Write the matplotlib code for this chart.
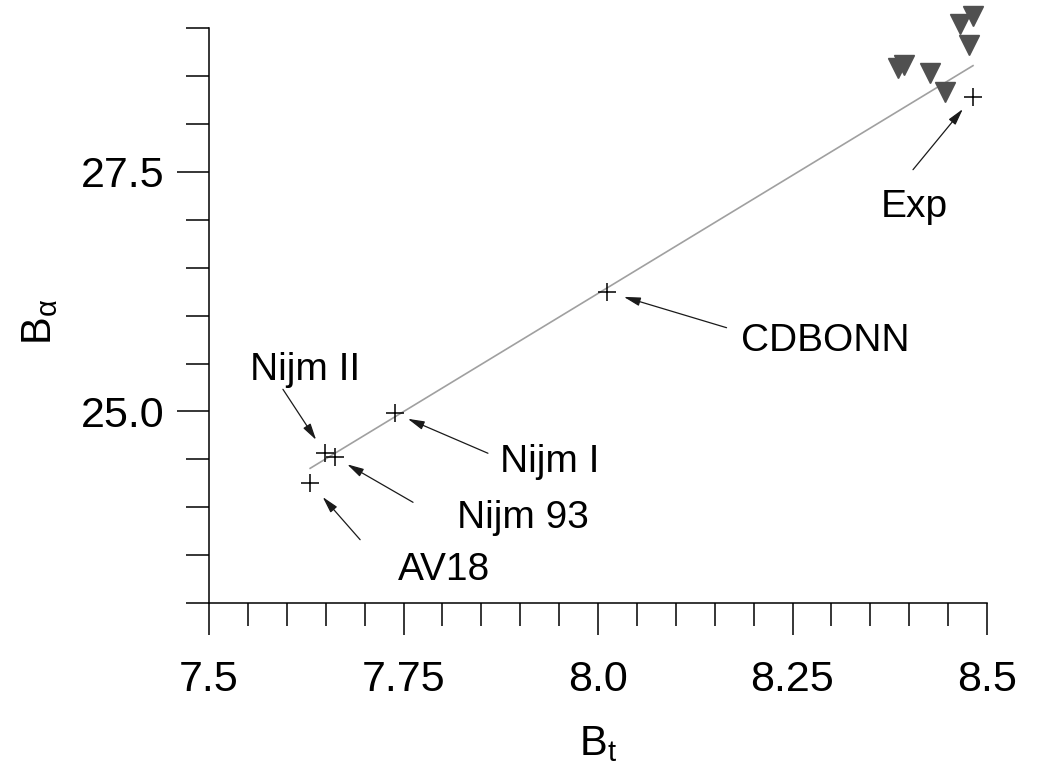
import matplotlib
matplotlib.use("Agg")
import matplotlib.pyplot as plt
from matplotlib.ticker import MultipleLocator, FixedLocator, FixedFormatter

plt.rcParams['font.family'] = ['Liberation Sans', 'DejaVu Sans']
plt.rcParams['mathtext.fontset'] = 'custom'
plt.rcParams['mathtext.rm'] = 'Liberation Sans'
plt.rcParams['mathtext.it'] = 'Liberation Sans:italic'

# ---- data ----
models = ['AV18', 'Nijm II', 'Nijm 93', 'Nijm I', 'CDBONN', 'Exp']
model_bt = [7.630, 7.649, 7.662, 7.739, 8.011, 8.482]
model_ba = [24.256, 24.563, 24.521, 24.981, 26.250, 28.286]

tri_bt = [8.4816, 8.4649, 8.4772, 8.3856, 8.3933, 8.4271, 8.4464]
tri_ba = [29.13, 29.05, 28.83, 28.59, 28.62, 28.53, 28.34]

line_bt = [7.630, 8.482]
line_ba = [24.406, 28.61]

x_ticks = [7.5, 7.75, 8.0, 8.25, 8.5]
x_ticklabels = ['7.5', '7.75', '8.0', '8.25', '8.5']
y_ticks = [25.0, 27.5]
y_ticklabels = ['25.0', '27.5']

# ---- styling (pixel offsets relative to each point) ----
PX = 0.72  # points per pixel at dpi 100
label_off_px = {
    'AV18': (134, 97), 'Nijm II': (-20, -73), 'Nijm 93': (188, 71),
    'Nijm I': (155, 59), 'CDBONN': (219, 59), 'Exp': (-59, 120),
}
arrow_tail_px = {
    'AV18': (50, 57), 'Nijm II': (-42, -64), 'Nijm 93': (78, 45),
    'Nijm I': (93, 40), 'CDBONN': (120, 36), 'Exp': (-60, 73),
}
arrow_gap_px = {'AV18': 19, 'Nijm II': 16, 'Nijm 93': 14,
                'Nijm I': 14, 'CDBONN': 18, 'Exp': 16}

fig = plt.figure(figsize=(10.41, 7.72), dpi=100)
ax = fig.add_axes([209/1041, (772-603)/772, 778/1041, 574.7/772])

ax.plot(line_bt, line_ba, color='#a0a0a0', lw=1.2, zorder=1)
ax.plot(tri_bt, tri_ba, linestyle='none', marker='v', ms=15,
        color='#505050', mec='#505050', clip_on=False, zorder=2)
ax.plot(model_bt, model_ba, linestyle='none', marker='+', ms=13,
        mew=1.1, color='black', zorder=3)

for name, xb, yb in zip(models, model_bt, model_ba):
    tx, ty = label_off_px[name]
    ax.annotate(name, xy=(xb, yb), xytext=(tx*PX, -ty*PX),
                textcoords='offset points', ha='center', va='baseline',
                fontsize=28, color='black')
    ax_, ay_ = arrow_tail_px[name]
    ax.annotate('', xy=(xb, yb), xytext=(ax_*PX, -ay_*PX),
                textcoords='offset points',
                arrowprops=dict(arrowstyle='-|>,head_length=0.5,head_width=0.13',
                                mutation_scale=20, color='#1a1a1a', lw=0.9,
                                shrinkA=0, shrinkB=arrow_gap_px[name]*PX))

ax.set_xlim(7.5, 8.5)
ax.set_ylim(23.0, 29.0)
ax.xaxis.set_major_locator(FixedLocator(x_ticks))
ax.xaxis.set_major_formatter(FixedFormatter(x_ticklabels))
ax.xaxis.set_minor_locator(MultipleLocator(0.05))
ax.yaxis.set_major_locator(FixedLocator(y_ticks))
ax.yaxis.set_major_formatter(FixedFormatter(y_ticklabels))
ax.yaxis.set_minor_locator(MultipleLocator(0.5))

for s in ['top', 'right']:
    ax.spines[s].set_visible(False)
for s in ['left', 'bottom']:
    ax.spines[s].set_linewidth(1.1)

ax.tick_params(which='major', direction='out', length=23, width=1.1,
               labelsize=31, colors='black')
ax.tick_params(which='minor', direction='out', length=16.5, width=1.1)
ax.tick_params(axis='x', which='major', pad=18)
ax.tick_params(axis='y', which='major', pad=9)

ax.set_xlabel(r'$\mathrm{B}_\mathrm{t}$', fontsize=30)
ax.set_ylabel(r'$\mathrm{B}_{\mathrm{α}}$', fontsize=30)
ax.xaxis.set_label_coords(0.5, -0.21)
ax.yaxis.set_label_coords(-0.192, 0.49)

fig.savefig('out.png', dpi=100)
